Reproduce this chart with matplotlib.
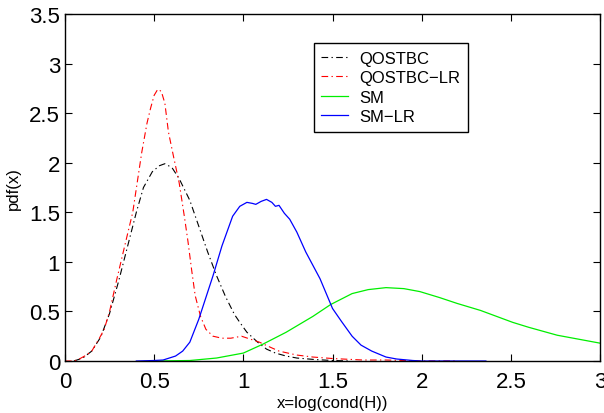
import matplotlib
matplotlib.use('Agg')
from matplotlib import pyplot as plt

plt.rcParams['font.family'] = ['Liberation Sans', 'DejaVu Sans']

# QOSTBC (black dash-dot)
x_q = [0.05, 0.1, 0.15, 0.2, 0.25, 0.3, 0.35, 0.4, 0.44, 0.49, 0.53, 0.56, 0.6, 0.64,
       0.7, 0.75, 0.8, 0.85, 0.9, 0.95, 0.98, 1.02, 1.08, 1.13, 1.18, 1.24, 1.3, 1.4,
       1.5, 1.6]
y_q = [0.0, 0.03, 0.1, 0.24, 0.48, 0.8, 1.15, 1.5, 1.75, 1.91, 1.97, 1.99, 1.95, 1.84,
       1.62, 1.36, 1.1, 0.86, 0.65, 0.47, 0.39, 0.29, 0.19, 0.12, 0.08, 0.05, 0.03, 0.015,
       0.005, 0.0]

# QOSTBC-LR (red dash-dot)
x_qlr = [0.0, 0.05, 0.08, 0.12, 0.15, 0.19, 0.22, 0.25, 0.29, 0.34, 0.38, 0.43, 0.46,
         0.48, 0.5, 0.52, 0.54, 0.56, 0.58, 0.61, 0.64, 0.67, 0.69, 0.71, 0.73, 0.76,
         0.79, 0.83, 0.88, 0.93, 0.99, 1.04, 1.09, 1.15, 1.2, 1.3, 1.39, 1.5, 1.67,
         1.8, 2.0, 2.2]
y_qlr = [0.0, 0.0, 0.02, 0.06, 0.1, 0.22, 0.32, 0.5, 0.82, 1.2, 1.5, 2.1, 2.4,
         2.55, 2.68, 2.74, 2.72, 2.6, 2.31, 2.05, 1.8, 1.45, 1.2, 0.92, 0.66, 0.45,
         0.32, 0.25, 0.23, 0.23, 0.25, 0.22, 0.19, 0.14, 0.1, 0.06, 0.04, 0.025, 0.01,
         0.01, 0.0, 0.0]

# SM (green)
x_sm = [0.5, 0.7, 0.85, 1.0, 1.11, 1.24, 1.39, 1.49, 1.61, 1.7, 1.8, 1.9, 1.99, 2.1,
        2.2, 2.33, 2.42, 2.51, 2.6, 2.76, 2.88, 3.0]
y_sm = [0.0, 0.005, 0.03, 0.08, 0.17, 0.29, 0.45, 0.57, 0.68, 0.72, 0.74, 0.73, 0.7,
        0.64, 0.58, 0.51, 0.45, 0.39, 0.34, 0.26, 0.22, 0.18]

# SM-LR (blue)
x_smlr = [0.4, 0.5, 0.55, 0.62, 0.66, 0.7, 0.75, 0.79, 0.83, 0.88, 0.94, 0.98, 1.02,
          1.05, 1.07, 1.1, 1.13, 1.16, 1.18, 1.2, 1.23, 1.26, 1.3, 1.35, 1.43, 1.5,
          1.55, 1.61, 1.66, 1.72, 1.8, 1.86, 1.95, 2.0, 2.36]
y_smlr = [0.0, 0.005, 0.01, 0.05, 0.1, 0.19, 0.42, 0.64, 0.86, 1.16, 1.46, 1.56, 1.6,
          1.59, 1.58, 1.61, 1.63, 1.6, 1.56, 1.57, 1.49, 1.43, 1.3, 1.1, 0.83, 0.53,
          0.4, 0.25, 0.16, 0.1, 0.04, 0.02, 0.005, 0.0, 0.0]

labels = ['QOSTBC', 'QOSTBC\u2212LR', 'SM', 'SM\u2212LR']

fig = plt.figure(figsize=(6.04, 4.14), dpi=100)
ax = fig.add_axes([0.1076, 0.1256, 0.8858, 0.8382])

dashdot = (0, (6, 3, 1.2, 3))
ax.plot(x_q, y_q, color='black', lw=0.8, linestyle=dashdot, label=labels[0])
ax.plot(x_qlr, y_qlr, color='red', lw=0.8, linestyle=dashdot, label=labels[1])
ax.plot(x_sm, y_sm, color='#00ee00', lw=0.9, label=labels[2])
ax.plot(x_smlr, y_smlr, color='blue', lw=0.9, label=labels[3])

ax.set_xlim(0, 3)
ax.set_ylim(0, 3.5)
ax.set_xticks([0, 0.5, 1, 1.5, 2, 2.5, 3])
ax.set_xticklabels(['0', '0.5', '1', '1.5', '2', '2.5', '3'])
ax.set_yticks([0, 0.5, 1, 1.5, 2, 2.5, 3, 3.5])
ax.set_yticklabels(['0', '0.5', '1', '1.5', '2', '2.5', '3', '3.5'])
ax.tick_params(direction='in', top=True, right=True, labelsize=16, length=5, width=0.8)
ax.tick_params(axis='x', pad=7)
for s in ax.spines.values():
    s.set_linewidth(1.0)

ax.set_xlabel('x=log(cond(H))', fontsize=12, labelpad=2)
ax.set_ylabel('pdf(x)', fontsize=12, labelpad=6)

leg = ax.legend(loc='upper left', bbox_to_anchor=(0.465, 0.916), fontsize=12,
                handlelength=1.6, handletextpad=0.7, fancybox=False, framealpha=1,
                borderpad=0.45, labelspacing=0.27, borderaxespad=0)
leg.get_frame().set_edgecolor('black')
leg.get_frame().set_linewidth(1.0)

fig.savefig('out.png', dpi=100)
